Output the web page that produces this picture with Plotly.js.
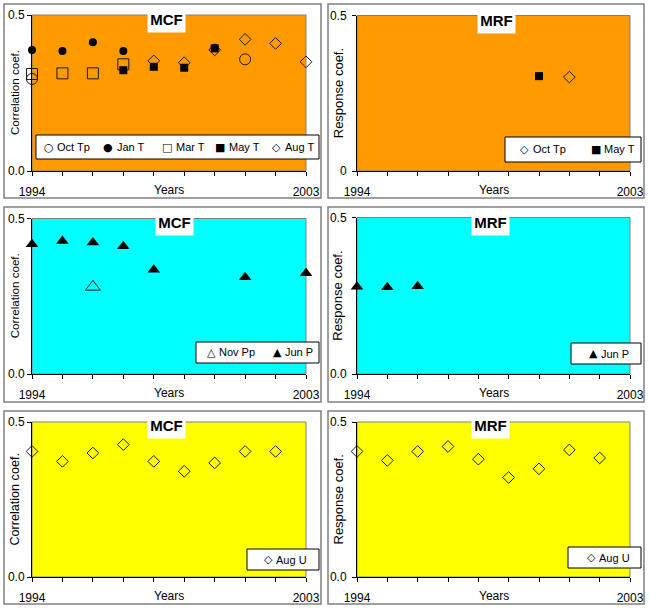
<!DOCTYPE html>
<html><head><meta charset="utf-8">
<script src="https://cdn.plot.ly/plotly-3.0.1.min.js"></script>
<style>html,body{margin:0;padding:0;background:#fff}</style>
</head><body><div id="chart" style="width:650px;height:611px"></div>
<script>
// ---------- DATA ----------
const years = [1994, 1995, 1996, 1997, 1998, 1999, 2000, 2001, 2002, 2003];
const xTickText = ['1994', '', '', '', '', '', '', '', '', '2003'];
const xTitle = 'Years';
const yTicks = [0, 0.5];
const yTickTextA = ['0.0', '0.5'];
const yTickTextB = ['0', '0.5'];
const panelTitles = ['MCF', 'MRF', 'MCF', 'MRF', 'MCF', 'MRF'];
const yTitles = ['Correlation coef.', 'Response coef.', 'Correlation coef.', 'Response coef.', 'Correlation coef.', 'Response coef.'];

// Row 1 (temperature)
const mcfOctTp = [0.295, null, null, null, null, null, null, 0.358, null, null];
const mcfJanT  = [0.388, 0.385, 0.413, 0.385, null, null, 0.395, null, null, null];
const mcfMarT  = [0.311, 0.313, 0.313, 0.342, null, null, null, null, null, null];
const mcfMayT  = [null, null, null, 0.323, 0.334, 0.331, 0.393, null, null, null];
const mcfAugT  = [null, null, null, null, 0.353, 0.347, 0.388, 0.422, 0.409, 0.350];
const mrfOctTp = [null, null, null, null, null, null, null, 0.302, null, null];
const mrfMayT  = [null, null, null, null, null, null, 0.305, null, null, null];
// Row 2 (precipitation)
const mcfNovPp = [null, null, 0.280, null, null, null, null, null, null, null];
const mcfJunP  = [0.417, 0.428, 0.423, 0.411, 0.335, null, null, 0.311, null, 0.324];
const mrfJunP  = [0.279, 0.277, 0.280, null, null, null, null, null, null, null];
// Row 3 (humidity)
const mcfAugU  = [0.405, 0.373, 0.400, 0.427, 0.373, 0.341, 0.368, 0.405, 0.405, null];
const mrfAugU  = [0.405, 0.376, 0.405, 0.421, 0.380, 0.321, 0.349, 0.410, 0.384, null];

// ---------- STYLE / LAYOUT ----------
const W = 650, H = 611;
const px = v => v / W;
const py = v => 1 - v / H;
const FONT = 'Liberation Sans, Arial, sans-serif';
const SYMFONT = 'DejaVu Sans, sans-serif';
const EDGE = '#1a1a1a';
const FS = 12;
const LFS = 11;

const MK = {
  circleOpen:   {symbol: 'circle-open', size: 11, glyph: '○'},
  circle:       {symbol: 'circle', size: 8, glyph: '●'},
  squareOpen:   {symbol: 'square-open', size: 11, glyph: '□'},
  square:       {symbol: 'square', size: 8, glyph: '■'},
  diamondOpen:  {symbol: 'diamond-open', size: 9, glyph: '◇'},
  triangleOpen: {symbol: 'triangle-up-open', size: 13, glyph: '△'},
  triangle:     {symbol: 'triangle-up', size: 11, glyph: '▲'}
};

const panels = [
  {x: [32, 306], y: [15, 171], bg: '#FF9900', tb: [166.5, 19.5], ytx: 14, yts: 11.6, ytt: yTickTextA, tso: 0,
   lg: [36, 319, 135, 159],
   series: [
     {name: 'Oct Tp', y: mcfOctTp, mk: MK.circleOpen, sx: 49, tx: 55},
     {name: 'Jan T', y: mcfJanT, mk: MK.circle, sx: 108, tx: 115},
     {name: 'Mar T', y: mcfMarT, mk: MK.squareOpen, sx: 167, tx: 174},
     {name: 'May T', y: mcfMayT, mk: MK.square, sx: 220, tx: 227},
     {name: 'Aug T', y: mcfAugT, mk: MK.diamondOpen, sx: 276, tx: 283}
   ]},
  {x: [357, 630], y: [15.5, 171], bg: '#FF9900', tb: [496.5, 20], ytx: 338, yts: 13, ytt: yTickTextB, tso: 3,
   lg: [505, 641, 137, 162],
   series: [
     {name: 'Oct Tp', y: mrfOctTp, mk: MK.diamondOpen, sx: 524, tx: 531},
     {name: 'May T', y: mrfMayT, mk: MK.square, sx: 596, tx: 602}
   ]},
  {x: [32, 306], y: [218.5, 374], bg: '#00FFFF', tb: [174.5, 222.5], ytx: 14, yts: 11.6, ytt: yTickTextA, tso: 0,
   lg: [196, 319, 342, 363],
   series: [
     {name: 'Nov Pp', y: mcfNovPp, mk: MK.triangleOpen, sx: 211, tx: 217},
     {name: 'Jun P', y: mcfJunP, mk: MK.triangle, sx: 277, tx: 283}
   ]},
  {x: [357, 630], y: [217.5, 374], bg: '#00FFFF', tb: [490, 222.5], ytx: 338, yts: 13, ytt: yTickTextA, tso: 3,
   lg: [571, 641, 343, 364],
   series: [
     {name: 'Jun P', y: mrfJunP, mk: MK.triangle, sx: 593, tx: 599}
   ]},
  {x: [32, 306], y: [422, 577], bg: '#FFFF00', tb: [166, 425.5], ytx: 14, yts: 12.6, ytt: yTickTextA, tso: 0,
   lg: [247, 319, 549, 570],
   series: [
     {name: 'Aug U', y: mcfAugU, mk: MK.diamondOpen, sx: 268, tx: 274}
   ]},
  {x: [357, 630], y: [422, 577], bg: '#FFFF00', tb: [490, 425.5], ytx: 338, yts: 13, ytt: yTickTextA, tso: 3,
   lg: [568, 641, 547, 568],
   series: [
     {name: 'Aug U', y: mrfAugU, mk: MK.diamondOpen, sx: 591, tx: 597}
   ]}
];

const frames = [[4, 321, 4, 198], [328, 644, 4, 198], [4, 321, 207, 402], [328, 644, 207, 402], [4, 321, 411, 604], [328, 644, 411, 604]];

const data = [];
const layout = {
  width: W, height: H,
  margin: {l: 0, r: 0, t: 0, b: 0},
  paper_bgcolor: '#ffffff',
  plot_bgcolor: 'rgba(0,0,0,0)',
  showlegend: false,
  shapes: [],
  annotations: [],
  font: {family: FONT, size: FS, color: '#000'}
};

frames.forEach(f => {
  layout.shapes.push({type: 'rect', xref: 'paper', yref: 'paper', x0: px(f[0]), x1: px(f[1]), y0: py(f[2]), y1: py(f[3]),
    line: {color: '#808080', width: 1.5}, fillcolor: 'rgba(0,0,0,0)', layer: 'below'});
});

panels.forEach((p, i) => {
  const n = i === 0 ? '' : String(i + 1);
  const xa = 'x' + n, ya = 'y' + n;
  layout['xaxis' + n] = {
    domain: [px(p.x[0]), px(p.x[1])], anchor: ya, range: [1994, 2003],
    tickmode: 'array', tickvals: years, ticktext: xTickText,
    ticks: 'outside', ticklen: 4, tickcolor: '#000', tickwidth: 1,
    showline: true, linecolor: '#000', linewidth: 1, mirror: false,
    showgrid: false, zeroline: false, fixedrange: true,
    ticklabelstandoff: 6,
    tickfont: {family: FONT, size: FS, color: '#000'}
  };
  layout['yaxis' + n] = {
    domain: [py(p.y[1]), py(p.y[0])], anchor: xa, range: [0, 0.5],
    tickmode: 'array', tickvals: yTicks, ticktext: p.ytt,
    ticks: 'outside', ticklen: 4, tickcolor: '#000', tickwidth: 1,
    showline: true, linecolor: '#000', linewidth: 1,
    showgrid: false, zeroline: false, fixedrange: true,
    ticklabelstandoff: p.tso,
    tickfont: {family: FONT, size: FS, color: '#000'}
  };
  // plot area fill + border
  layout.shapes.push({type: 'rect', xref: 'paper', yref: 'paper', x0: px(p.x[0]), x1: px(p.x[1]), y0: py(p.y[1]), y1: py(p.y[0]),
    line: {color: '#808080', width: 1}, fillcolor: p.bg, layer: 'below'});
  // legend box
  layout.shapes.push({type: 'rect', xref: 'paper', yref: 'paper', x0: px(p.lg[0]), x1: px(p.lg[1]), y0: py(p.lg[3]), y1: py(p.lg[2]),
    line: {color: '#000', width: 1}, fillcolor: '#ffffff', layer: 'above'});
  const lgMid = (p.lg[2] + p.lg[3]) / 2;

  p.series.forEach(s => {
    const open = s.mk.symbol.indexOf('open') >= 0;
    data.push({
      type: 'scatter', mode: 'markers', name: s.name,
      x: years, y: s.y, xaxis: xa, yaxis: ya, cliponaxis: false, showlegend: false,
      marker: {symbol: s.mk.symbol, size: s.mk.size, color: open ? EDGE : '#000',
               line: {color: EDGE, width: open ? 1 : 0}}
    });
    layout.annotations.push({xref: 'paper', yref: 'paper', x: px(s.sx), y: py(lgMid), xanchor: 'center', yanchor: 'middle',
      text: s.mk.glyph, showarrow: false, font: {family: SYMFONT, size: 11, color: '#000'}});
    layout.annotations.push({xref: 'paper', yref: 'paper', x: px(s.tx), y: py(lgMid), xanchor: 'left', yanchor: 'middle',
      text: s.name, showarrow: false, font: {family: FONT, size: LFS, color: '#000'}});
  });

  // title box
  layout.annotations.push({xref: 'paper', yref: 'paper', x: px(p.tb[0]), y: py(p.tb[1]), xanchor: 'center', yanchor: 'middle',
    text: '<b>' + panelTitles[i] + '</b>', showarrow: false, bgcolor: '#ffffff', width: 37, height: 25, borderpad: 0,
    font: {family: FONT, size: 15, color: '#000'}});
  // y title
  layout.annotations.push({xref: 'paper', yref: 'paper', x: px(p.ytx), y: py((p.y[0] + p.y[1]) / 2), xanchor: 'center', yanchor: 'middle',
    text: yTitles[i], textangle: -90, showarrow: false, font: {family: FONT, size: p.yts, color: '#000'}});
  // x title
  layout.annotations.push({xref: 'paper', yref: 'paper', x: px((p.x[0] + p.x[1]) / 2), y: py(p.y[1] + 19), xanchor: 'center', yanchor: 'middle',
    text: xTitle, showarrow: false, font: {family: FONT, size: FS, color: '#000'}});
});

Plotly.newPlot('chart', data, layout, {displayModeBar: false, staticPlot: true});
</script>
</body></html>
